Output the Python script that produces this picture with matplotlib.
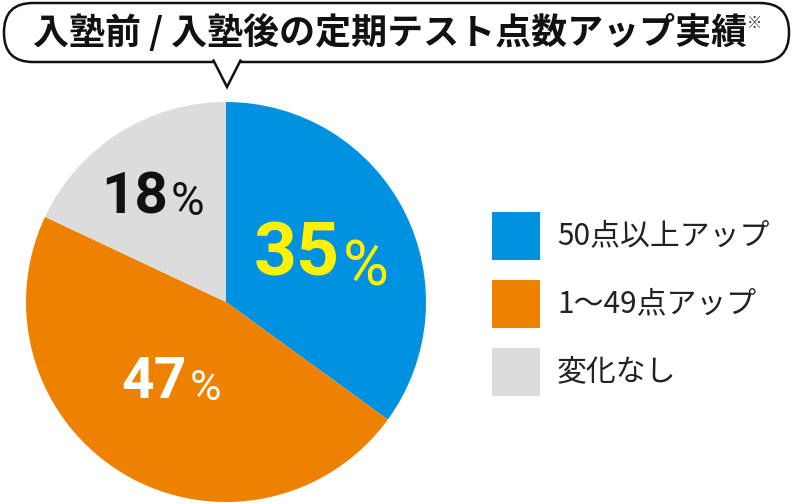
import numpy as np
import matplotlib.pyplot as plt
from matplotlib.patches import FancyBboxPatch, Polygon, Rectangle

# ============================================================
# DATA
# ============================================================

TITLE = "入塾前 / 入塾後の定期テスト点数アップ実績"
NOTE = "※"

categories = ["50点以上アップ", "1〜49点アップ", "変化なし"]
shares = [35, 47, 18]

COLORS = ["#0092E0", "#EE8200", "#DCDCDC"]
LABEL_COLORS = ["#FFF100", "#FFFFFF", "#111111"]

# ============================================================
# FIGURE  (axes in pixel units, y up)
# ============================================================

W, H = 796, 504
fig = plt.figure(figsize=(W / 100, H / 100), dpi=100)
fig.patch.set_facecolor("white")
ax = fig.add_axes([0, 0, 1, 1])

def py(y):
    # pixel row (from top) -> data y
    return H - y

cx, cy, r = 226, py(302), 200
wedges, _ = ax.pie(shares, colors=COLORS, startangle=90, counterclock=False,
                   center=(cx, cy), radius=r,
                   wedgeprops=dict(linewidth=0))

ax.set_xlim(0, W)
ax.set_ylim(0, H)
ax.set_aspect("equal")
ax.axis("off")

# --------------------------------------------------------
# speech bubble title
# --------------------------------------------------------
bx0, bx1, by0, by1 = 4, 789, py(62), py(3)
box = FancyBboxPatch((bx0, by0), bx1 - bx0, by1 - by0,
                     boxstyle="round,pad=0,rounding_size=29",
                     facecolor="white", edgecolor="#111111", linewidth=1.8,
                     zorder=3)
ax.add_patch(box)
tail = Polygon([(213, by0 + 2.5), (227, py(87)), (241, by0 + 2.5)],
               closed=False, facecolor="white", edgecolor="#111111",
               linewidth=1.8, zorder=4)
ax.add_patch(tail)

ax.text(33, py(33), TITLE, fontsize=25.9, fontweight="bold",
        family=["Noto Sans CJK JP", "DejaVu Sans"], color="#111111",
        ha="left", va="center", zorder=5)
ax.text(747, py(23), NOTE, fontsize=11,
        family=["Noto Sans CJK JP", "DejaVu Sans"], color="#333333",
        ha="left", va="center", zorder=5)

# --------------------------------------------------------
# percentage labels
# --------------------------------------------------------
# (number right edge, number centre y, number size, % centre y, % size)
label_pos = [
    (340, 256, 54, 268, 45),
    (187, 382, 41, 388, 31),
    (168, 198, 42, 202, 33),
]
for val, col, (xr, ny, ns, pyc, ps) in zip(shares, LABEL_COLORS, label_pos):
    ax.text(xr, py(ny), str(val), fontsize=ns, fontweight="bold",
            family="Roboto", color=col, ha="right", va="center")
    ax.text(xr + 3, py(pyc), "%", fontsize=ps,
            family="Roboto", color=col, ha="left", va="center")

# --------------------------------------------------------
# legend
# --------------------------------------------------------
leg_y = [236, 304, 372]
for name, col, yc in zip(categories, COLORS, leg_y):
    ax.add_patch(Rectangle((492, py(yc) - 24), 48, 48,
                           facecolor=col, edgecolor="none"))
    ax.text(557, py(yc), name, fontsize=21.5,
            family=["Noto Sans CJK JP", "DejaVu Sans"], color="#222222",
            ha="left", va="center")

plt.savefig("out.png", dpi=100, facecolor="white")
